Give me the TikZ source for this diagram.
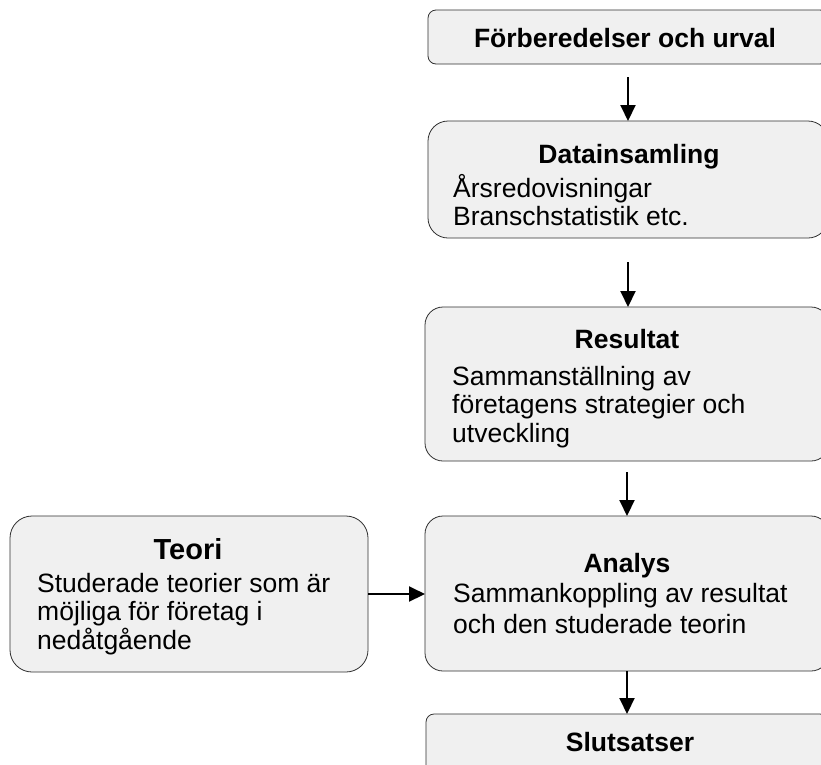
\documentclass[tikz,border=0pt]{standalone}
\usepackage{fontspec}
\setmainfont{Liberation Sans}
\usetikzlibrary{arrows.meta}
\definecolor{boxfill}{HTML}{F0F0F0}
\definecolor{boxline}{HTML}{303030}
\tikzset{
  box/.style={draw=boxline, fill=boxfill, line width=0.8pt, inner sep=0pt, outer sep=0pt, rectangle},
  ttl/.style={inner sep=0pt, anchor=base, font=\fontsize{26.5}{28}\selectfont\bfseries},
  bigttl/.style={inner sep=0pt, anchor=base, font=\fontsize{29}{30}\selectfont\bfseries},
  txt/.style={inner sep=0pt, anchor=base west, font=\fontsize{26.5}{28}\selectfont},
  flow/.style={-{Triangle[length=16pt,width=15pt]}, line width=2pt, black},
}
\begin{document}
\begin{tikzpicture}[x=1pt,y=-1pt]
\clip (0,0) rectangle (821,764);
\fill[white] (0,0) rectangle (821,764);
% boxes
\node[box, rounded corners=8pt, minimum width=400pt, minimum height=54pt] (prep) at (628,37) {};
\node[box, rounded corners=20pt, minimum width=400pt, minimum height=117pt] (data) at (628,179.5) {};
\node[box, rounded corners=18pt, minimum width=404pt, minimum height=154pt] (res) at (627,384) {};
\node[box, rounded corners=18pt, minimum width=404pt, minimum height=155pt] (ana) at (627,593.5) {};
\node[box, rounded corners=22pt, minimum width=358pt, minimum height=156pt] (teori) at (189,594) {};
\node[box, rounded corners=8pt, minimum width=402pt, minimum height=90pt] (slut) at (627,759) {};
% texts
\node[ttl] (prept) at (625,47) {Förberedelser och urval};
\node[ttl] (datat) at (629,163) {Datainsamling};
\node[txt] (data1) at (453,197) {Årsredovisningar};
\node[txt] (data2) at (453,225) {Branschstatistik etc.};
\node[ttl] (rest) at (627,348) {Resultat};
\node[txt] (res1) at (452,385) {Sammanställning av};
\node[txt] (res2) at (452,413) {företagens strategier och};
\node[txt] (res3) at (452,442) {utveckling};
\node[ttl] (anat) at (627,572) {Analys};
\node[txt] (ana1) at (453,602) {Sammankoppling av resultat};
\node[txt] (ana2) at (453,633) {och den studerade teorin};
\node[bigttl] (teorit) at (188,559.5) {Teori};
\node[txt] (teori1) at (37,592) {Studerade teorier som är};
\node[txt] (teori2) at (37,620) {möjliga för företag i};
\begin{scope}
\clip (12,600) rectangle (366,654);
\node[txt] (teori3) at (37,649) {nedåtgående};
\end{scope}
\node[ttl] (slutt) at (630,751) {Slutsatser};
% connectors
\draw[flow, shorten <=13pt] (prep.south) -- (data.north);
\draw[flow, shorten <=24pt] (data.south) -- (data.south |- res.north);
\draw[flow, shorten <=11pt] (res.south) -- (ana.north);
\draw[flow] (ana.south) -- (slut.north);
\draw[flow] (teori.east |- 0,594) -- (ana.west |- 0,594);
\end{tikzpicture}
\end{document}
